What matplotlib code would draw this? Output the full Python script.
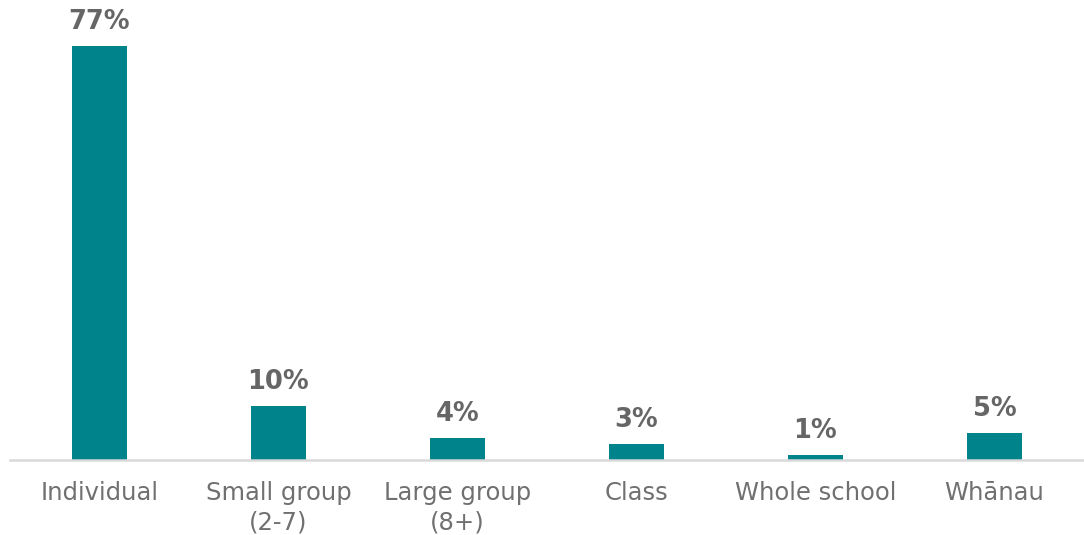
import matplotlib
matplotlib.use("Agg")
import matplotlib.pyplot as plt

# Share of responses by group size
categories = ["Individual", "Small group\n(2-7)", "Large group\n(8+)",
              "Class", "Whole school", "Whānau"]
values = [77, 10, 4, 3, 1, 5]

BAR_COLOR = "#00838A"
LABEL_COLOR = "#666666"
TICK_COLOR = "#707070"

fig = plt.figure(figsize=(10.84, 5.35), dpi=100)
ax = fig.add_axes([10 / 1084, 75 / 535, 1074 / 1084, 460 / 535])

x = range(len(categories))
bars = ax.bar(x, values, width=0.31, color=BAR_COLOR)

for b, v in zip(bars, values):
    ax.annotate(f"{v}%", (b.get_x() + b.get_width() / 2, v),
                xytext=(0, 8), textcoords="offset points",
                ha="center", va="bottom", fontsize=18.5, fontweight="bold",
                color=LABEL_COLOR)

ax.set_xlim(-0.5, len(categories) - 0.5)
ax.set_ylim(0, 85.5)
ax.set_xticks(list(x))
ax.set_xticklabels(categories, fontsize=17.5, color=TICK_COLOR, linespacing=1.3)
ax.tick_params(axis="x", length=0, pad=15)
ax.set_yticks([])

for side in ["top", "right", "left"]:
    ax.spines[side].set_visible(False)
ax.spines["bottom"].set_color("#d9d9d9")
ax.spines["bottom"].set_linewidth(1.8)

fig.savefig("out.png", dpi=100)
